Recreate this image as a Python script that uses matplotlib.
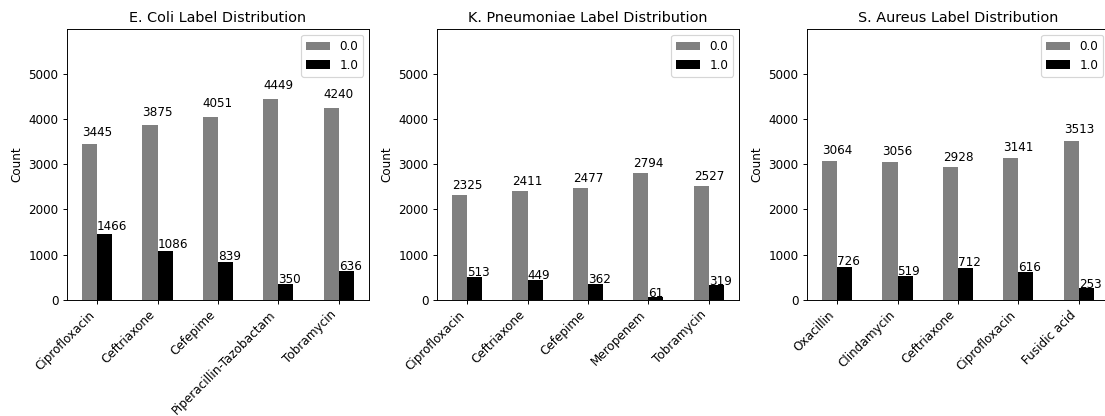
import matplotlib
matplotlib.use('Agg')
import matplotlib.pyplot as plt
import numpy as np

# label counts per species (0.0 = susceptible, 1.0 = resistant)
ecoli_drugs = ['Ciprofloxacin', 'Ceftriaxone', 'Cefepime', 'Piperacillin-Tazobactam', 'Tobramycin']
ecoli_neg = [3445, 3875, 4051, 4449, 4240]
ecoli_pos = [1466, 1086, 839, 350, 636]

kpn_drugs = ['Ciprofloxacin', 'Ceftriaxone', 'Cefepime', 'Meropenem', 'Tobramycin']
kpn_neg = [2325, 2411, 2477, 2794, 2527]
kpn_pos = [513, 449, 362, 61, 319]

sau_drugs = ['Oxacillin', 'Clindamycin', 'Ceftriaxone', 'Ciprofloxacin', 'Fusidic acid']
sau_neg = [3064, 3056, 2928, 3141, 3513]
sau_pos = [726, 519, 712, 616, 253]

titles = ['E. Coli Label Distribution', 'K. Pneumoniae Label Distribution', 'S. Aureus Label Distribution']
label_names = ['0.0', '1.0']

panels = [(ecoli_drugs, ecoli_neg, ecoli_pos),
          (kpn_drugs, kpn_neg, kpn_pos),
          (sau_drugs, sau_neg, sau_pos)]
ymax = max(max(ecoli_neg), max(kpn_neg), max(sau_neg)) * 1.345

DPI = 86
fig, axes = plt.subplots(1, 3, figsize=(1105 / DPI, 416 / DPI))
plt.subplots_adjust(left=0.0606, right=1.0036, bottom=0.279, top=0.930, wspace=0.225)

w = 0.25
for ax, (drugs, neg, pos), title in zip(axes, panels, titles):
    x = np.arange(len(drugs))
    b0 = ax.bar(x - w/2, neg, w, color='gray', label=label_names[0])
    b1 = ax.bar(x + w/2, pos, w, color='black', label=label_names[1])
    for bars in (b0, b1):
        for p in bars:
            h = p.get_height()
            ax.annotate(str(int(h)), (p.get_x(), h * 1.05), fontsize=10)
    ax.set_xlim(-0.5, len(drugs) - 0.5)
    ax.set_ylim(0, ymax)
    ax.set_xticks(x)
    ax.set_xticklabels(drugs, rotation=45, ha='right')
    ax.set_ylabel('Count')
    ax.set_title(title)
    ax.legend(loc='upper right')

plt.savefig('out.png', dpi=DPI)
plt.close()
